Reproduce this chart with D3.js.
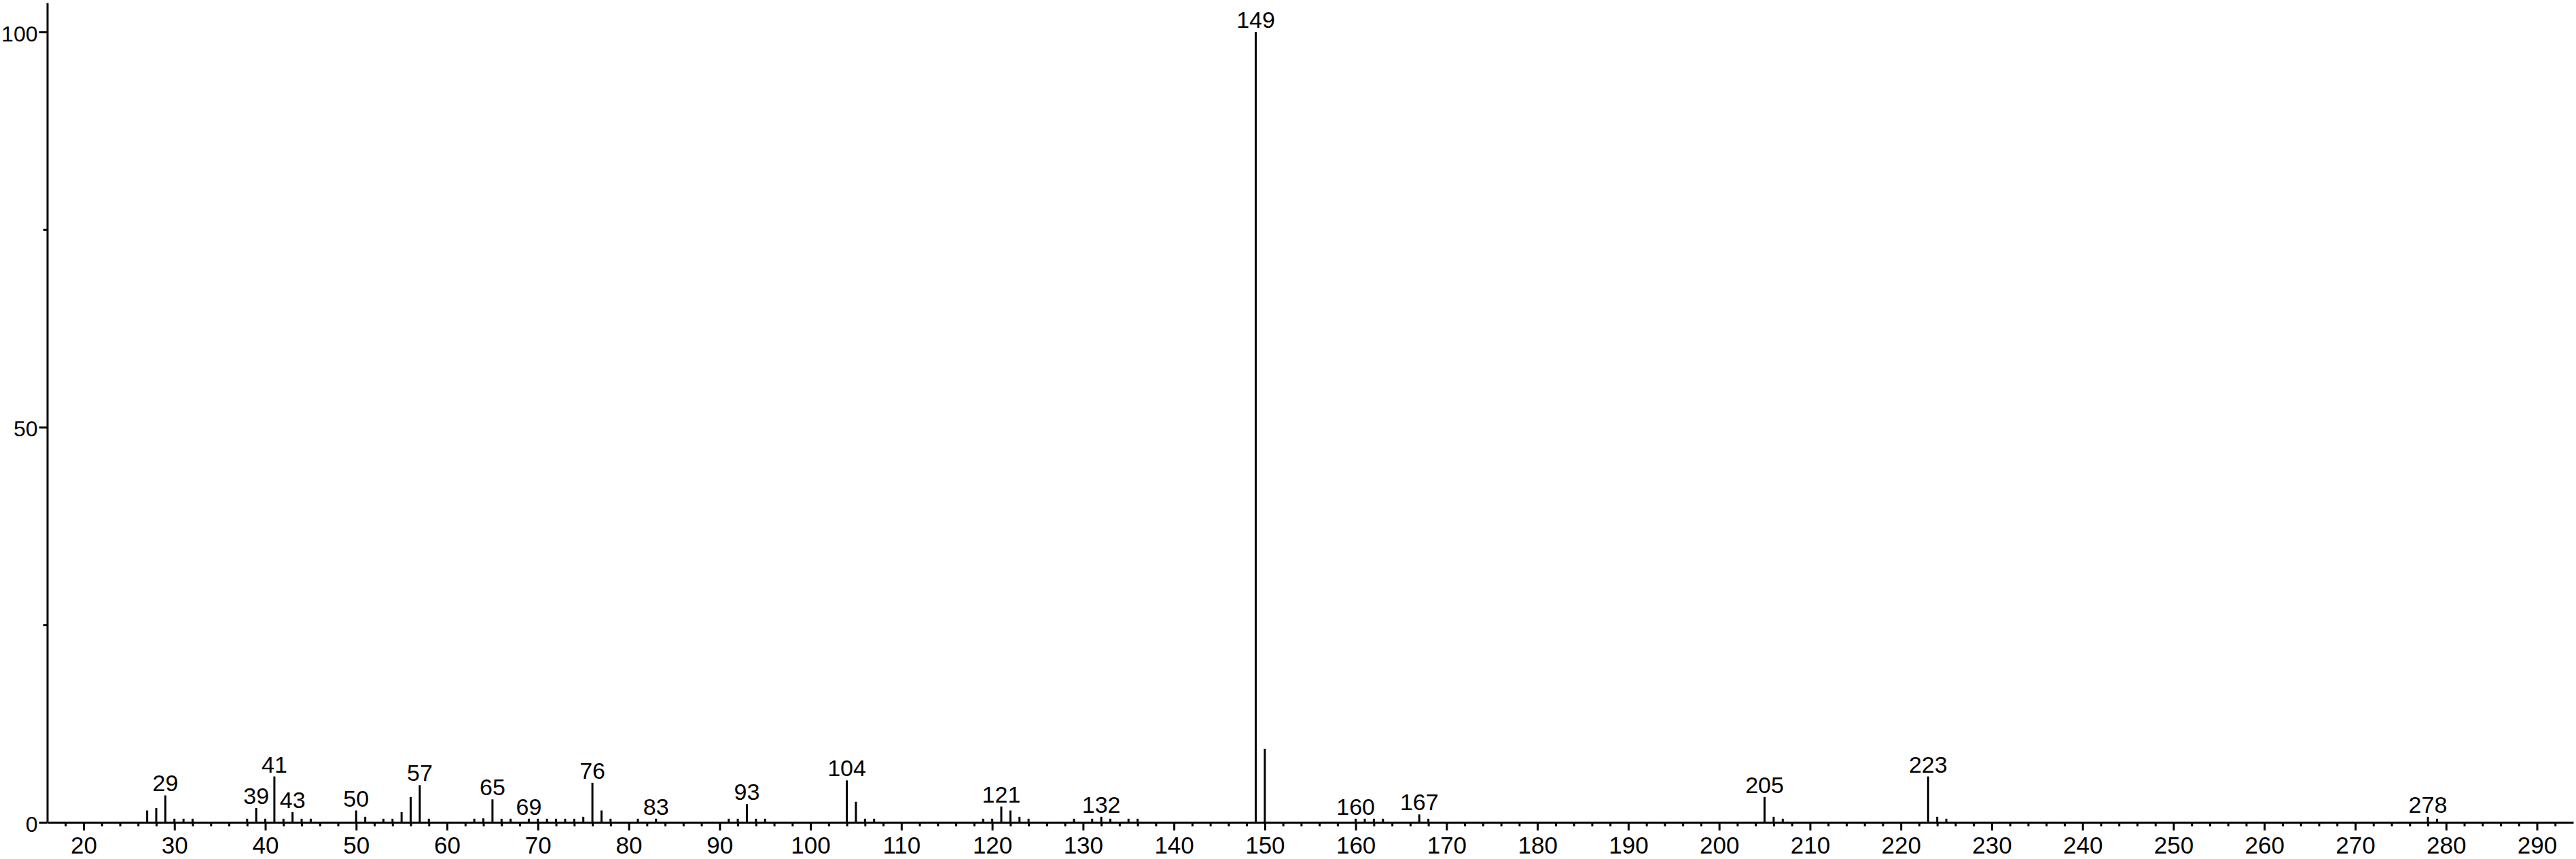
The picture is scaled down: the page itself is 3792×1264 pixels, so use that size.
<!DOCTYPE html>
<html>
<head>
<meta charset="utf-8">
<script src="https://cdn.jsdelivr.net/npm/d3@7/dist/d3.min.js"></script>
<style>
  html, body { margin: 0; padding: 0; background: #fff; }
  svg { display: block; }
  text { font-family: "Liberation Sans", Arial, sans-serif; fill: #000; }
</style>
</head>
<body>
<svg id="chart" width="3792" height="1264"></svg>
<script>
// m/z values of the peaks
const mz = [27,28,29,30,31,32,38,39,40,41,42,43,44,45,50,51,53,54,55,56,57,58,
  63,64,65,66,67,69,70,71,72,73,74,75,76,77,78,81,83,91,92,93,94,95,
  104,105,106,107,119,120,121,122,123,124,129,131,132,133,135,136,
  149,150,160,161,162,163,167,168,205,206,207,223,224,225,278,279];
// relative intensity (%)
const intensity = [1.5,1.8,3.4,0.45,0.45,0.45,0.45,1.8,0.45,5.8,0.45,1.3,0.45,0.45,1.5,0.7,0.45,0.45,1.3,3.2,4.7,0.45,
  0.45,0.5,2.9,0.45,0.45,0.45,0.45,0.45,0.45,0.45,0.45,0.7,5.0,1.5,0.45,0.45,0.45,0.45,0.45,2.3,0.45,0.45,
  5.3,2.6,0.45,0.45,0.45,0.45,2.0,1.5,0.7,0.45,0.45,0.45,0.7,0.45,0.45,0.45,
  100,9.3,0.45,0.45,0.45,0.45,1.0,0.45,3.2,0.7,0.45,5.8,0.7,0.45,0.7,0.45];
// peaks that carry an m/z label
const labeledPeaks = [29,39,41,43,50,57,65,69,76,83,93,104,121,132,149,160,167,205,223,278];
// axis ticks
const xMajorTicks = [20,30,40,50,60,70,80,90,100,110,120,130,140,150,160,170,180,190,200,210,220,230,240,250,260,270,280,290];
const xMinorTicks = d3.range(18, 294, 2).filter(v => v % 10 !== 0);
const yMajorTicks = [0, 50, 100];
const yMinorTicks = [25, 75];

const peaks = mz.map((m, i) => ({ m, v: intensity[i] }));

const svg = d3.select("#chart");
svg.append("rect").attr("width", 3792).attr("height", 1264).attr("fill", "#fff");

const x = d3.scaleLinear().domain([16, 294]).range([69.5, 3788]);
const y = d3.scaleLinear().domain([0, 103.7]).range([1210, 4]);

const fontFam = "'Liberation Sans', Arial, sans-serif";

// X axis: minor ticks
svg.append("g")
  .attr("transform", `translate(0,${y(0)})`)
  .call(d3.axisBottom(x).tickValues(xMinorTicks).tickSize(6).tickSizeOuter(0).tickFormat(""))
  .call(g => g.select(".domain").remove())
  .call(g => g.selectAll("line").attr("stroke", "#000").attr("stroke-width", 3));

// X axis: major ticks + labels
svg.append("g")
  .attr("transform", `translate(0,${y(0)})`)
  .call(d3.axisBottom(x).tickValues(xMajorTicks).tickSize(12).tickSizeOuter(0).tickPadding(9).tickFormat(d3.format("d")))
  .call(g => g.select(".domain").attr("stroke", "#000").attr("stroke-width", 3))
  .call(g => g.selectAll("line").attr("stroke", "#000").attr("stroke-width", 3))
  .call(g => g.selectAll("text").attr("font-size", 35).attr("font-family", fontFam).attr("fill", "#000"));

// Y axis: minor ticks
svg.append("g")
  .attr("transform", `translate(${x(16)},0)`)
  .call(d3.axisLeft(y).tickValues(yMinorTicks).tickSize(6).tickSizeOuter(0).tickFormat(""))
  .call(g => g.select(".domain").remove())
  .call(g => g.selectAll("line").attr("stroke", "#000").attr("stroke-width", 3));

// Y axis: major ticks + labels
svg.append("g")
  .attr("transform", `translate(${x(16)},0)`)
  .call(d3.axisLeft(y).tickValues(yMajorTicks).tickSize(12).tickSizeOuter(0).tickPadding(2).tickFormat(d3.format("d")))
  .call(g => g.select(".domain").attr("stroke", "#000").attr("stroke-width", 3))
  .call(g => g.selectAll("line").attr("stroke", "#000").attr("stroke-width", 3))
  .call(g => g.selectAll("text").attr("font-size", 32).attr("font-family", fontFam).attr("fill", "#000").attr("dy", "0.42em"));

// Peaks
svg.append("g")
  .selectAll("line")
  .data(peaks)
  .join("line")
  .attr("x1", d => x(d.m))
  .attr("x2", d => x(d.m))
  .attr("y1", y(0))
  .attr("y2", d => y(d.v))
  .attr("stroke", "#000")
  .attr("stroke-width", 3);

// Peak labels
svg.append("g")
  .selectAll("text")
  .data(peaks.filter(p => labeledPeaks.includes(p.m)))
  .join("text")
  .attr("x", d => x(d.m))
  .attr("y", d => y(d.v) - 6)
  .attr("text-anchor", "middle")
  .attr("font-size", 34)
  .text(d => d.m);
</script>
</body>
</html>
